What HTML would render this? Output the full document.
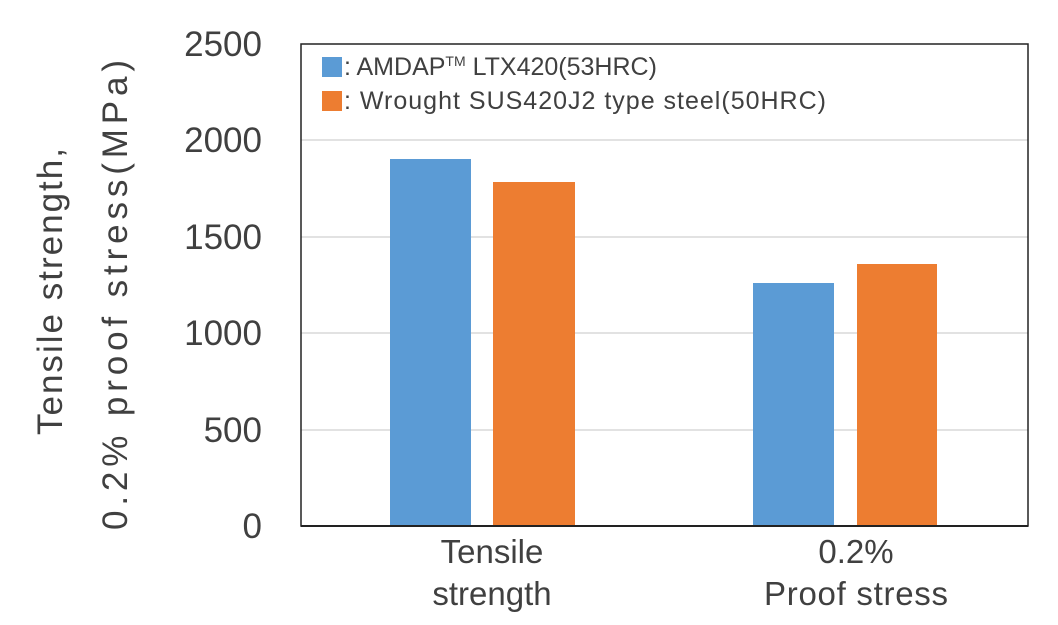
<!DOCTYPE html>
<html><head><style>
body{margin:0;background:#fff;width:1058px;height:620px;overflow:hidden;font-family:"Liberation Sans",sans-serif;}
</style></head><body>
<svg width="1058" height="620" xmlns="http://www.w3.org/2000/svg" font-family="Liberation Sans, sans-serif">
<g stroke="#d9d9d9" stroke-width="1.5">
<line x1="301" x2="1028" y1="140" y2="140"/>
<line x1="301" x2="1028" y1="237" y2="237"/>
<line x1="301" x2="1028" y1="333" y2="333"/>
<line x1="301" x2="1028" y1="430" y2="430"/>
</g>
<rect x="390" y="159" width="81" height="367" fill="#5b9bd5"/>
<rect x="493" y="182" width="82" height="344" fill="#ed7d31"/>
<rect x="753" y="283" width="81" height="243" fill="#5b9bd5"/>
<rect x="857" y="264" width="80" height="262" fill="#ed7d31"/>
<rect x="301" y="44" width="727" height="482" fill="none" stroke="#222" stroke-width="1.5"/>
<line x1="301" x2="1028" y1="526" y2="526" stroke="#222" stroke-width="2"/>
<g font-size="35" fill="#404040" text-anchor="end">
<text x="262" y="56">2500</text>
<text x="262" y="152">2000</text>
<text x="262" y="249">1500</text>
<text x="262" y="345">1000</text>
<text x="262" y="442">500</text>
<text x="262" y="538">0</text>
</g>
<g font-size="33" fill="#404040" text-anchor="middle">
<text x="492" y="563">Tensile</text>
<text x="492" y="605">strength</text>
<text x="856" y="563">0.2%</text>
<text x="856" y="605" textLength="184">Proof stress</text>
</g>
<g font-size="35" fill="#404040">
<text transform="translate(62,435) rotate(-90)" textLength="287">Tensile strength,</text>
<text transform="translate(127,530) rotate(-90)" textLength="470">0.2% proof stress(MPa)</text>
</g>
<rect x="322" y="57" width="20" height="20" fill="#5b9bd5"/>
<rect x="322" y="91" width="20" height="20" fill="#ed7d31"/>
<g font-size="25" fill="#404040">
<text x="344" y="75">: AMDAP<tspan font-size="14" dy="-9">TM</tspan><tspan dy="9"> LTX420(53HRC)</tspan></text>
<text x="344" y="109" textLength="482">: Wrought SUS420J2 type steel(50HRC)</text>
</g>
</svg>
</body></html>
